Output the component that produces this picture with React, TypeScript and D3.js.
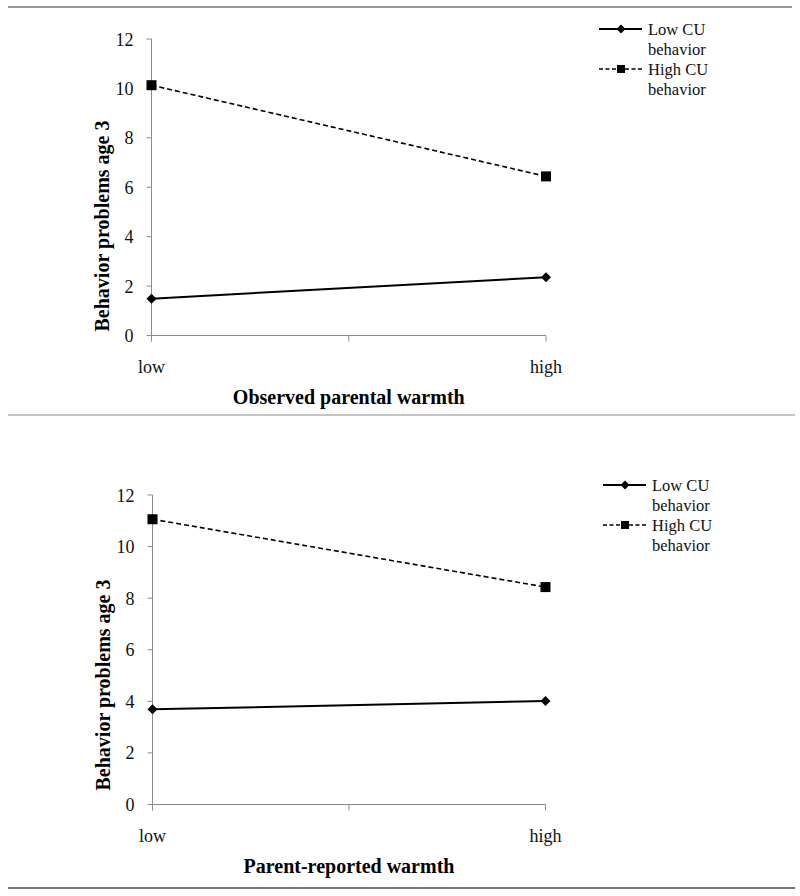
import React from "react";
import * as d3 from "d3";

const categories = ["low", "high"];
const yTicks = [0, 2, 4, 6, 8, 10, 12];
const seriesNames = ["Low CU behavior", "High CU behavior"];
const observedLowCU = [1.49, 2.36];
const observedHighCU = [10.13, 6.44];
const reportedLowCU = [3.69, 4.01];
const reportedHighCU = [11.06, 8.43];
const xTitles = ["Observed parental warmth", "Parent-reported warmth"];
const yTitle = "Behavior problems age 3";

const FONT = "Times New Roman, Liberation Serif, DejaVu Serif, serif";

type PanelProps = {
  top: number;
  bottom: number;
  left: number;
  right: number;
  lowVals: number[];
  highVals: number[];
  xTitle: string;
  yTitleCenter: number;
  legendX: number;
  legendY: number;
};

function diamondPath(cx: number, cy: number, r: number) {
  return `M${cx},${cy - r}L${cx + r},${cy}L${cx},${cy + r}L${cx - r},${cy}Z`;
}

function Panel(p: PanelProps) {
  const x = d3.scalePoint<string>().domain(categories).range([p.left, p.right]);
  const y = d3.scaleLinear().domain([0, 12]).range([p.bottom, p.top]);
  const line = d3
    .line<number>()
    .x((_, i) => x(categories[i]) as number)
    .y((d) => y(d));
  const xTickPos = [p.left, (p.left + p.right) / 2, p.right];
  const axisColor = "#8c8c8c";
  const txt = { fontFamily: FONT };
  return (
    <g>
      {/* y axis */}
      <line x1={p.left} x2={p.left} y1={y(12)} y2={y(0) + 6} stroke={axisColor} strokeWidth={1} />
      {yTicks.map((t) => (
        <g key={t}>
          <line x1={p.left - 5} x2={p.left} y1={y(t)} y2={y(t)} stroke={axisColor} strokeWidth={1} />
          <text x={p.left - 18} y={y(t) + 6.5} textAnchor="end" style={txt} fontSize={18} fill="#111">
            {t}
          </text>
        </g>
      ))}
      {/* x axis */}
      <line x1={p.left} x2={p.right} y1={y(0)} y2={y(0)} stroke={axisColor} strokeWidth={1} />
      {xTickPos.map((xp, i) => (
        <line key={i} x1={xp} x2={xp} y1={y(0)} y2={y(0) + 6} stroke={axisColor} strokeWidth={1} />
      ))}
      {categories.map((c) => (
        <text key={c} x={x(c) as number} y={y(0) + 37} textAnchor="middle" style={txt} fontSize={18} fill="#111">
          {c}
        </text>
      ))}
      <text
        x={(p.left + p.right) / 2}
        y={y(0) + 68}
        textAnchor="middle"
        style={txt}
        fontSize={20}
        fontWeight="bold"
        fill="#000"
      >
        {p.xTitle}
      </text>
      <text
        transform={`translate(${p.left - 43},${p.yTitleCenter}) rotate(-90)`}
        textAnchor="middle"
        style={txt}
        fontSize={20}
        fontWeight="bold"
        fill="#000"
      >
        {yTitle}
      </text>
      {/* series */}
      <path d={line(p.lowVals) || ""} fill="none" stroke="#000" strokeWidth={2} />
      <path d={line(p.highVals) || ""} fill="none" stroke="#000" strokeWidth={1.6} strokeDasharray="5,3" />
      {p.lowVals.map((v, i) => (
        <path key={"l" + i} d={diamondPath(x(categories[i]) as number, y(v), 5)} fill="#000" />
      ))}
      {p.highVals.map((v, i) => (
        <rect key={"h" + i} x={(x(categories[i]) as number) - 5} y={y(v) - 5} width={10} height={10} fill="#000" />
      ))}
      {/* legend */}
      <g>
        <line x1={p.legendX} x2={p.legendX + 43} y1={p.legendY} y2={p.legendY} stroke="#000" strokeWidth={2} />
        <path d={diamondPath(p.legendX + 22, p.legendY, 4.5)} fill="#000" />
        <text x={p.legendX + 49} y={p.legendY + 6} style={txt} fontSize={16.5} fill="#111">
          {seriesNames[0].replace(" behavior", "")}
        </text>
        <text x={p.legendX + 49} y={p.legendY + 26} style={txt} fontSize={16.5} fill="#111">
          behavior
        </text>
        <line
          x1={p.legendX}
          x2={p.legendX + 43}
          y1={p.legendY + 40}
          y2={p.legendY + 40}
          stroke="#000"
          strokeWidth={1.6}
          strokeDasharray="4,2.5"
        />
        <rect x={p.legendX + 18} y={p.legendY + 36} width={8} height={8} fill="#000" />
        <text x={p.legendX + 49} y={p.legendY + 46} style={txt} fontSize={16.5} fill="#111">
          {seriesNames[1].replace(" behavior", "")}
        </text>
        <text x={p.legendX + 49} y={p.legendY + 66} style={txt} fontSize={16.5} fill="#111">
          behavior
        </text>
      </g>
    </g>
  );
}

export default function App() {
  return (
    <div style={{ position: "absolute", left: 0, top: 0 }}>
      <svg width={800} height={896} style={{ display: "block", background: "#fff" }}>
        <rect x={0} y={0} width={800} height={896} fill="#fff" />
        <line x1={8} x2={792} y1={7} y2={7} stroke="#999" strokeWidth={2} />
        <line x1={8} x2={795} y1={415} y2={415} stroke="#c4c4c4" strokeWidth={2} />
        <line x1={8} x2={795} y1={888} y2={888} stroke="#777" strokeWidth={2} />
        <Panel
          top={39}
          bottom={335.5}
          left={151.5}
          right={546}
          lowVals={observedLowCU}
          highVals={observedHighCU}
          xTitle={xTitles[0]}
          yTitleCenter={226}
          legendX={599}
          legendY={29}
        />
        <Panel
          top={495}
          bottom={804.5}
          left={152.5}
          right={545.5}
          lowVals={reportedLowCU}
          highVals={reportedHighCU}
          xTitle={xTitles[1]}
          yTitleCenter={685}
          legendX={603}
          legendY={485}
        />
      </svg>
    </div>
  );
}
